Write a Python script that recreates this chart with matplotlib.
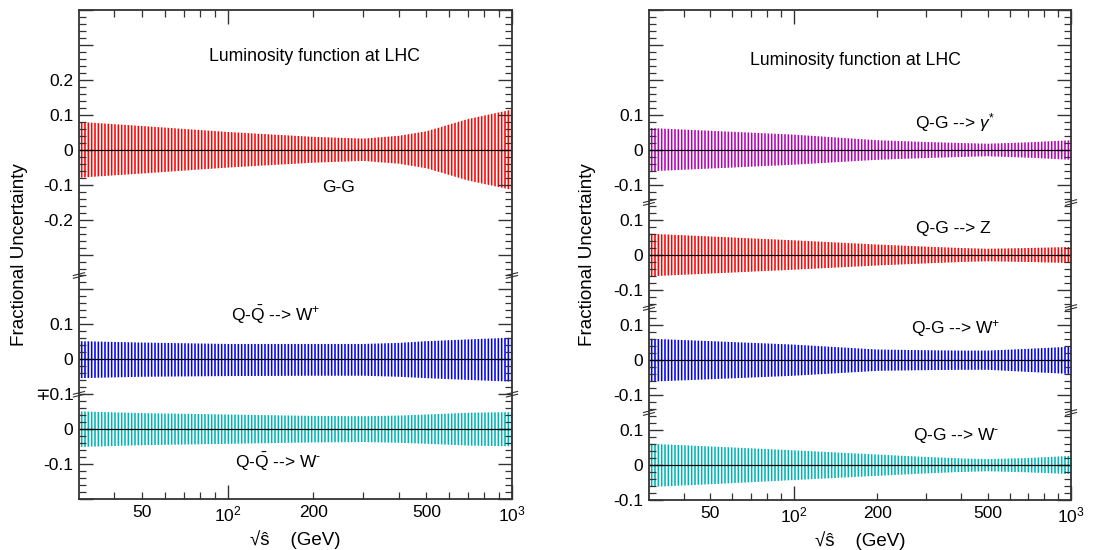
import matplotlib
matplotlib.use("Agg")
import matplotlib.pyplot as plt
from matplotlib.ticker import MultipleLocator

plt.rcParams['font.family'] = ['Liberation Sans', 'DejaVu Sans']
plt.rcParams['mathtext.fontset'] = 'custom'
plt.rcParams['mathtext.rm'] = 'Liberation Sans'
plt.rcParams['mathtext.it'] = 'Liberation Sans:italic'
plt.rcParams['hatch.linewidth'] = 1.15

# sqrt(s-hat) knots (GeV) where the band edges were read
x_knots = [30, 50, 100, 200, 300, 400, 500, 700, 1000]

# left panel: fractional uncertainty bands (upper / lower edge)
gg_up = [0.080, 0.068, 0.051, 0.037, 0.032, 0.040, 0.053, 0.088, 0.115]
gg_lo = [-0.080, -0.068, -0.051, -0.037, -0.032, -0.040, -0.053, -0.088, -0.115]
qqwp_up = [0.052, 0.048, 0.044, 0.044, 0.044, 0.047, 0.052, 0.057, 0.062]
qqwp_lo = [-0.054, -0.050, -0.048, -0.047, -0.047, -0.050, -0.054, -0.059, -0.064]
qqwm_up = [0.051, 0.046, 0.042, 0.038, 0.037, 0.039, 0.042, 0.047, 0.049]
qqwm_lo = [-0.051, -0.046, -0.042, -0.038, -0.037, -0.039, -0.042, -0.047, -0.049]

# right panel
qgg_up = [0.063, 0.055, 0.044, 0.028, 0.023, 0.020, 0.018, 0.022, 0.028]
qgg_lo = [-0.061, -0.053, -0.042, -0.028, -0.023, -0.020, -0.018, -0.022, -0.028]
qgz_up = [0.061, 0.053, 0.042, 0.030, 0.024, 0.020, 0.018, 0.020, 0.023]
qgz_lo = [-0.061, -0.053, -0.042, -0.030, -0.024, -0.020, -0.018, -0.020, -0.023]
qgwp_up = [0.061, 0.054, 0.044, 0.030, 0.028, 0.027, 0.027, 0.032, 0.038]
qgwp_lo = [-0.062, -0.055, -0.045, -0.031, -0.029, -0.028, -0.028, -0.034, -0.040]
qgwm_up = [0.061, 0.053, 0.042, 0.030, 0.023, 0.019, 0.017, 0.020, 0.026]
qgwm_lo = [-0.063, -0.055, -0.043, -0.031, -0.024, -0.020, -0.018, -0.021, -0.026]

RED = '#ff0000'
BLUE = '#0000f0'
CYAN = '#00b4b4'
MAG = '#b400b4'

x_major = [100, 1000]
x_major_labels = ['$10^2$', '$10^3$']
x_minor = [40, 50, 60, 70, 80, 90, 200, 300, 400, 500, 600, 700, 800, 900]
x_minor_labels = ['', '50', '', '', '', '', '200', '', '', '500', '', '', '', '']

TXT = 12.5


def draw_band(ax, offset, up, lo, color):
    with plt.rc_context({'hatch.color': color}):
        ax.fill_between(x_knots, [offset + v for v in lo], [offset + v for v in up],
                        facecolor='none', edgecolor=color, hatch='|' * 5, linewidth=0)
    ax.axhline(offset, color='black', lw=0.9)


def break_marks(ax, ys):
    tr = ax.get_yaxis_transform()
    for xa in (0, 1):
        for y in ys:
            for d in (-0.004, 0.004):
                ax.plot([xa - 0.013, xa + 0.013], [y + d - 0.004, y + d + 0.004],
                        color='#333333', lw=0.8, transform=tr, clip_on=False)


def setup_axes(ax, ylim, ylabels):
    ax.set_xscale('log')
    ax.set_xlim(30, 1000)
    ax.set_ylim(*ylim)
    ax.set_xticks(x_major, x_major_labels)
    ax.set_xticks(x_minor, x_minor_labels, minor=True)
    ax.yaxis.set_major_locator(MultipleLocator(0.1))
    ax.yaxis.set_minor_locator(MultipleLocator(0.02))
    locs = [t for t in ax.get_yticks() if ylim[0] - 1e-6 <= t <= ylim[1] + 1e-6]
    labels = [ylabels.get(round(t, 2), '') for t in locs]
    ax.set_yticks(locs, labels)
    ax.tick_params(which='both', direction='in', top=True, right=True,
                   labelsize=12.5, pad=4, color='#333333')
    ax.tick_params(which='major', length=10, width=1)
    ax.tick_params(which='minor', length=5, width=0.9)
    for s in ax.spines.values():
        s.set_linewidth(1.3)
        s.set_color('#333333')
    ax.set_xlabel('√ŝ    (GeV)', fontsize=13.5, labelpad=4)
    ax.set_ylabel('Fractional Uncertainty', fontsize=13.6)


fig = plt.figure(figsize=(11.06, 5.5), dpi=100)

# ---- left panel ----
ax1 = fig.add_axes([0.0714, 0.0927, 0.3915, 0.889])
draw_band(ax1, 0.8, gg_up, gg_lo, RED)
draw_band(ax1, 0.2, qqwp_up, qqwp_lo, BLUE)
draw_band(ax1, 0.0, qqwm_up, qqwm_lo, CYAN)
left_labels = {1.0: '0.2', 0.9: '0.1', 0.8: '0', 0.7: '-0.1', 0.6: '-0.2',
               0.3: '0.1', 0.2: '0', 0.1: '∓0.1', 0.0: '0', -0.1: '-0.1'}
setup_axes(ax1, (-0.2, 1.2), left_labels)
ax1.yaxis.set_label_coords(-0.118, 0.5)
break_marks(ax1, [0.44, 0.1])
ax1.text(0.543, 0.906, 'Luminosity function at LHC', transform=ax1.transAxes,
         ha='center', va='center', fontsize=12.7)
ax1.text(0.600, 0.638, 'G-G', transform=ax1.transAxes, ha='center', va='center', fontsize=TXT)
ax1.text(0.455, 0.376, r'Q-$\mathrm{\bar{Q}}$ --> W$^{+}$', transform=ax1.transAxes,
         ha='center', va='center', fontsize=TXT)
ax1.text(0.460, 0.076, r'Q-$\mathrm{\bar{Q}}$ --> W$^{\text{-}}$', transform=ax1.transAxes,
         ha='center', va='center', fontsize=TXT)

# ---- right panel ----
ax2 = fig.add_axes([0.5868, 0.0909, 0.3816, 0.8909])
draw_band(ax2, 0.9, qgg_up, qgg_lo, MAG)
draw_band(ax2, 0.6, qgz_up, qgz_lo, RED)
draw_band(ax2, 0.3, qgwp_up, qgwp_lo, BLUE)
draw_band(ax2, 0.0, qgwm_up, qgwm_lo, CYAN)
right_labels = {}
for off in (0.0, 0.3, 0.6, 0.9):
    right_labels[round(off + 0.1, 2)] = '0.1'
    right_labels[round(off, 2)] = '0'
    right_labels[round(off - 0.1, 2)] = '-0.1'
setup_axes(ax2, (-0.1, 1.3), right_labels)
ax2.yaxis.set_label_coords(-0.126, 0.5)
break_marks(ax2, [0.15, 0.45, 0.75])
ax2.text(0.488, 0.896, 'Luminosity function at LHC', transform=ax2.transAxes,
         ha='center', va='center', fontsize=12.7)
ax2.text(0.725, 0.771, r'Q-G --> $\gamma^{*}$', transform=ax2.transAxes,
         ha='center', va='center', fontsize=TXT)
ax2.text(0.720, 0.555, 'Q-G --> Z', transform=ax2.transAxes,
         ha='center', va='center', fontsize=TXT)
ax2.text(0.727, 0.349, r'Q-G --> W$^{+}$', transform=ax2.transAxes,
         ha='center', va='center', fontsize=TXT)
ax2.text(0.727, 0.131, r'Q-G --> W$^{\text{-}}$', transform=ax2.transAxes,
         ha='center', va='center', fontsize=TXT)

fig.savefig('out.png', dpi=100)
